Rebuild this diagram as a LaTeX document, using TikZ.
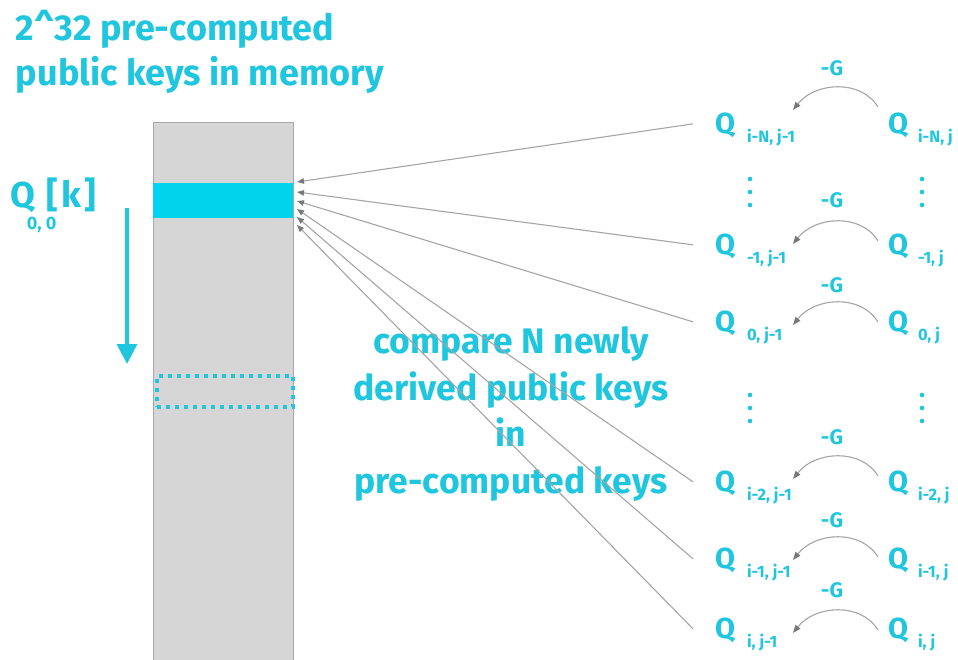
\documentclass[tikz,border=0pt]{standalone}
\usepackage{fontspec}
\setmainfont{Fira Sans}
\IfFontExistsTF{FiraSans-Medium.otf}
  {\newfontfamily\keyfont{FiraSans-Medium.otf}\newcommand\keyweight{}}
  {\newfontfamily\keyfont{Fira Sans}\newcommand\keyweight{\bfseries}}
\usetikzlibrary{arrows.meta,calc}
\definecolor{keycyan}{RGB}{32,198,222}
\definecolor{slotcyan}{RGB}{0,212,236}
\definecolor{memgray}{RGB}{214,214,214}
\definecolor{memedge}{RGB}{168,168,168}
\definecolor{linkgray}{RGB}{165,165,165}
\definecolor{tipgray}{RGB}{120,120,120}
\newcommand\setfs[2]{\keyfont\keyweight\fontsize{#1}{#2}\selectfont}
\begin{document}
\begin{tikzpicture}[x=1pt,y=-1pt,
  txt/.style={text=keycyan, inner sep=0pt, outer sep=0pt},
  qkey/.style={txt, font=\setfs{29}{29}},
  qsub/.style={txt, font=\setfs{16.5}{16.5}},
  minusg/.style={txt, font=\setfs{21}{21}},
  link/.style={draw=linkgray, line width=1.1pt,
    -{Triangle[length=7pt,width=5.5pt,color=tipgray]}},
  garc/.style={draw=linkgray, line width=1.1pt,
    -{Triangle[length=8pt,width=6pt,color=tipgray]}},
  keydot/.style={fill=keycyan}]
\path[use as bounding box] (0,0) rectangle (958,659);
\clip (0,0) rectangle (958,659);

% table of pre-computed keys
\node[draw=memedge, fill=memgray, line width=1.2pt, minimum width=140pt,
  minimum height=560pt, anchor=north west, inner sep=0pt] (mem) at (153,122) {};
\node[fill=slotcyan, minimum width=140pt, minimum height=35pt,
  anchor=north west, inner sep=0pt] (slot) at (153,183) {};
\node[draw=keycyan, line width=3.5pt, dash pattern=on 4pt off 5pt,
  minimum width=136pt, minimum height=31pt, anchor=north west,
  inner sep=0pt] (nextslot) at (155,374) {};

% heading
\node[txt, font=\setfs{36}{45}, align=left, anchor=north west]
  (title) at (16,10) {2\textasciicircum 32 pre-computed\\public keys in memory};

% index label and scan direction
\node[txt, font=\setfs{36}{36}, anchor=base west] (qk) at (10,207) {Q\hspace{12pt}[\kern3pt k\kern3pt]};
\node[txt, font=\setfs{18}{18}, anchor=base west] (qk0) at (27,229) {0, 0};
\coordinate (scanA) at (127,208);
\coordinate (scanB) at (127,364);
\draw[keycyan, line width=3.5pt, -{Triangle[length=20pt,width=20pt]}] (scanA) -- (scanB);

% middle caption
\node[txt, font=\setfs{35.5}{46.5}, align=center] (cmp) at (511,414)
  {compare N newly\\derived public keys\\in\\pre-computed keys};

% arrow tips on the highlighted slot
\coordinate (t1) at (297,182);
\coordinate (t2) at (297,192);
\coordinate (t3) at (297,201);
\coordinate (t4) at (297,209);
\coordinate (t5) at (297,217);
\coordinate (t6) at (297,225);

% derived keys
\foreach \r/\qb/\sl/\sr/\gy/\ay in {
   1/133/{i-N, j-1}/{i-N, j}/68/107,
   2/254/{-1, j-1}/{-1, j}/200/241,
   3/331/{0, j-1}/{0, j}/285/322,
   4/491/{i-2, j-1}/{i-2, j}/437/476,
   5/568/{i-1, j-1}/{i-1, j}/520/557,
   6/638/{i, j-1}/{i, j}/590/630}{
  \node[qkey, anchor=base west] (a\r) at (715,\qb) {Q};
  \node[qsub, anchor=base west] (a\r s) at (747,\qb+9) {\sl};
  \node[qkey, anchor=base west] (b\r) at (888,\qb) {Q};
  \node[qsub, anchor=base west] (b\r s) at (918,\qb+9) {\sr};
  \node[minusg] (g\r) at (832,\gy) {-G};
  \draw[garc] ($(b\r.west |- 0,\ay)+(-10,0)$)
     .. controls +(-17,-28) and +(22,-28) .. ($(a\r.east |- 0,\ay)+(58,3)$);
  \draw[link] ($(a\r.west)+(-22,-1)$) -- (t\r);
}

% vertical ellipses between rows
\foreach \x in {750,922}{
  \foreach \y in {179,192,205,395,408,421}{
    \fill[keydot] (\x,\y) circle[radius=2.3pt];
  }
}
\end{tikzpicture}
\end{document}
